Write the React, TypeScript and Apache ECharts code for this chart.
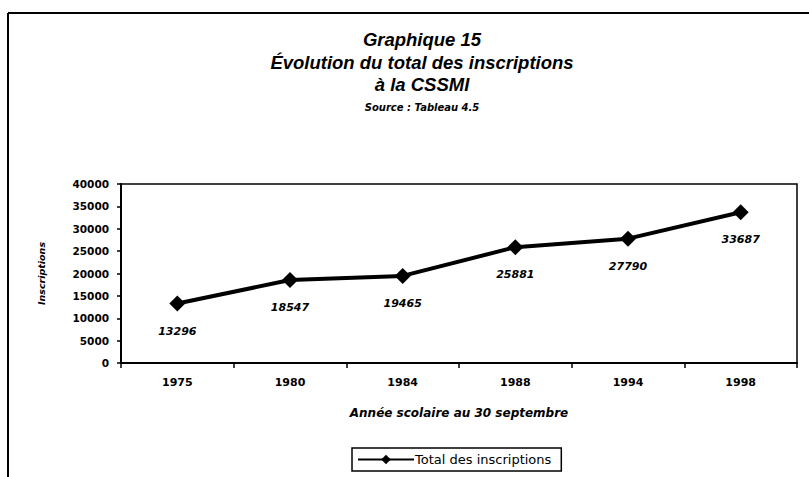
import React, { useEffect, useRef } from "react";
import * as echarts from "echarts";

const years = ["1975", "1980", "1984", "1988", "1994", "1998"];
const totals = [13296, 18547, 19465, 25881, 27790, 33687];
const seriesName = "Total des inscriptions";
const titleLines = ["Graphique 15", "Évolution du total des inscriptions", "à la CSSMI"];
const sourceText = "Source : Tableau 4.5";
const yName = "Inscriptions";
const xName = "Année scolaire au 30 septembre";

export default function App() {
  const ref = useRef<HTMLDivElement>(null);
  useEffect(() => {
    if (!ref.current) return;
    const chart = echarts.init(ref.current, null, { renderer: "svg" });
    const font = "Liberation Sans, Arial, sans-serif";
    const dv = "DejaVu Sans, sans-serif";
    chart.setOption({
      animation: false,
      backgroundColor: "#fff",
      textStyle: { fontFamily: font, color: "#000" },
      title: [
        ...titleLines.map((t, i) => ({
          text: t,
          left: 417,
          top: 25 + i * 22.5,
          textAlign: "center",
          textStyle: { fontSize: 18.5, fontWeight: "bold", fontStyle: "italic", fontFamily: font, color: "#000" },
        })),
        {
          text: sourceText,
          left: 417,
          top: 97,
          textAlign: "center",
          textStyle: { fontSize: 10, fontWeight: "bold", fontStyle: "italic", fontFamily: dv, color: "#000" },
        },
      ],
      graphic: [
        { type: "line", shape: { x1: 8, y1: 13, x2: 809, y2: 13 }, style: { stroke: "#000", lineWidth: 2 } },
        { type: "line", shape: { x1: 8, y1: 13, x2: 8, y2: 477 }, style: { stroke: "#000", lineWidth: 2 } },
      ],
      legend: {
        data: [seriesName],
        left: 352,
        top: 448,
        borderColor: "#000",
        borderWidth: 1.5,
        padding: [5, 10, 5, 5],
        itemWidth: 56,
        itemHeight: 12,
        itemGap: 2,
        textStyle: { fontSize: 13, fontFamily: dv, color: "#000", padding: [0, 0, 0, -4] },
      },
      grid: {
        left: 121,
        right: 12,
        top: 184,
        bottom: 114,
        show: true,
        borderColor: "#000",
        borderWidth: 1.5,
        backgroundColor: "transparent",
      },
      xAxis: {
        type: "category",
        data: years,
        boundaryGap: true,
        name: xName,
        nameLocation: "middle",
        nameGap: 44,
        nameTextStyle: { fontSize: 12, fontWeight: "bold", fontStyle: "italic", fontFamily: dv, color: "#000" },
        axisLine: { lineStyle: { color: "#000", width: 2 } },
        axisTick: { show: true, inside: false, length: 5, lineStyle: { color: "#000", width: 1.5 } },
        axisLabel: { fontSize: 11, fontWeight: "bold", fontFamily: dv, color: "#000", margin: 14 },
        splitLine: { show: false },
      },
      yAxis: {
        type: "value",
        min: 0,
        max: 40000,
        interval: 5000,
        name: yName,
        nameLocation: "middle",
        nameRotate: 90,
        nameGap: 75,
        nameTextStyle: { fontSize: 9.5, fontWeight: "bold", fontStyle: "italic", fontFamily: dv, color: "#000" },
        axisLine: { show: true, lineStyle: { color: "#000", width: 2 } },
        axisTick: { show: true, inside: false, length: 4, lineStyle: { color: "#000", width: 1.5 } },
        axisLabel: {
          fontSize: 10.5,
          fontWeight: "bold",
          fontFamily: dv,
          color: "#000",
          margin: 12,
          formatter: (v: number) => String(v),
        },
        splitLine: { show: false },
      },
      series: [
        {
          name: seriesName,
          type: "line",
          data: totals,
          symbol: "diamond",
          symbolSize: 16,
          lineStyle: { color: "#000", width: 4 },
          itemStyle: { color: "#000" },
          label: {
            show: true,
            position: "bottom",
            distance: 14,
            fontSize: 11,
            fontWeight: "bold",
            fontStyle: "italic",
            fontFamily: dv,
            color: "#000",
          },
        },
      ],
    });
    return () => chart.dispose();
  }, []);
  return (
    <div
      ref={ref}
      style={{ position: "absolute", left: 0, top: 0, width: 809, height: 477 }}
    />
  );
}
